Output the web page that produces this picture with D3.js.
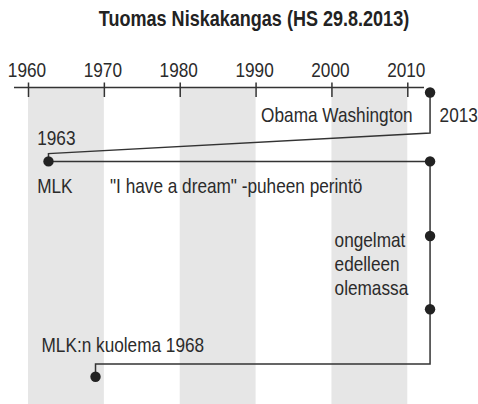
<!DOCTYPE html>
<html>
<head>
<meta charset="utf-8">
<script src="https://cdn.jsdelivr.net/npm/d3@7"></script>
<style>
  body { margin: 0; background: #fff; }
  svg text { font-family: "Liberation Sans", Arial, sans-serif; fill: #2b2b2b; }
</style>
</head>
<body>
<svg id="chart" width="478" height="404"></svg>
<script>
// axis ticks (decades) and shaded decades
var tickYears = [1960, 1970, 1980, 1990, 2000, 2010];
var bandStarts = [1960, 1980, 2000];

// events on the timeline: year position and row
var eventYears = [2013, 1962.7, 2013, 2013, 2013, 1968.9];
var eventRows  = [0, 0.97, 0.97, 2.02, 3.05, 4];

// route of the connecting line, in the same units
var routeYears = [2013, 2013, 1962.7, 1962.7, 2013, 2013, 1968.9, 1968.9];
var routeRows  = [0, 0.57, 0.86, 0.97, 0.97, 3.82, 3.82, 4];

var title = "Tuomas Niskakangas (HS 29.8.2013)";

var svg = d3.select("#chart");
var W = 478, H = 404;
var axisY = 87.5;
var NARROW = 0.82; // no narrow face installed, squeeze the regular one

var x = d3.scaleLinear().domain([1960, 2010]).range([28, 407.3]);
var y = d3.scaleLinear().domain([0, 4]).range([92.5, 376.7]);

// write a text squeezed horizontally around its anchor point
function narrowText(sel, px, py, txt, anchor, size) {
  return sel.append("text")
    .attr("transform", "translate(" + px + "," + py + ") scale(" + NARROW + ",1)")
    .attr("text-anchor", anchor || "start")
    .attr("font-size", size || 21)
    .text(txt);
}

// shaded decade bands
svg.append("g").selectAll("rect")
  .data(bandStarts)
  .enter().append("rect")
  .attr("x", function (d) { return x(d); })
  .attr("y", axisY)
  .attr("width", function (d) { return x(d + 10) - x(d); })
  .attr("height", H - axisY)
  .attr("fill", "#e6e6e6");

// title
narrowText(svg, 254, 26, title, "middle", 22)
  .attr("font-weight", "bold")
  .style("fill", "#222");

// axis
var axis = d3.axisTop(x)
  .tickValues(tickYears)
  .tickFormat(d3.format("d"))
  .tickSizeInner(5).tickSizeOuter(0);
var gAxis = svg.append("g").attr("transform", "translate(0," + axisY + ")").call(axis);
gAxis.select(".domain").attr("d", "M14,0H424").attr("stroke", "#333").attr("stroke-width", 1.5);
gAxis.selectAll(".tick line").attr("y1", 9.5).attr("y2", -5).attr("stroke", "#333").attr("stroke-width", 1.5);
gAxis.selectAll(".tick text")
  .attr("y", null).attr("dy", null)
  .attr("transform", "translate(-1.5,-10.2) scale(" + NARROW + ",1)")
  .attr("font-size", 21)
  .attr("font-family", null);

// connecting line
var line = d3.line()
  .x(function (d) { return x(d[0]); })
  .y(function (d) { return y(d[1]); });
svg.append("path")
  .datum(d3.zip(routeYears, routeRows))
  .attr("d", line)
  .attr("fill", "none")
  .attr("stroke", "#333")
  .attr("stroke-width", 1.5);

// event dots
svg.append("g").selectAll("circle")
  .data(d3.zip(eventYears, eventRows))
  .enter().append("circle")
  .attr("cx", function (d) { return x(d[0]); })
  .attr("cy", function (d) { return y(d[1]); })
  .attr("r", 5.2)
  .attr("fill", "#222");

// labels, placed relative to the events
function label(i, dx, dy, txt, anchor) {
  narrowText(svg, x(eventYears[i]) + dx, y(eventRows[i]) + dy, txt, anchor);
}
label(0, -17.5, 29.2, "Obama Washington", "end");
label(0, 9.5, 29.2, "2013");
label(1, -11.3, -16, "1963");
label(1, -11.3, 32, "MLK");
label(1, 61.5, 32, "\"I have a dream\" -puheen perintö");
label(3, -95.5, 10.5, "ongelmat");
label(3, -95.5, 34.5, "edelleen");
label(3, -95.5, 58.5, "olemassa");
label(5, -54, -25, "MLK:n kuolema 1968");
</script>
</body>
</html>
